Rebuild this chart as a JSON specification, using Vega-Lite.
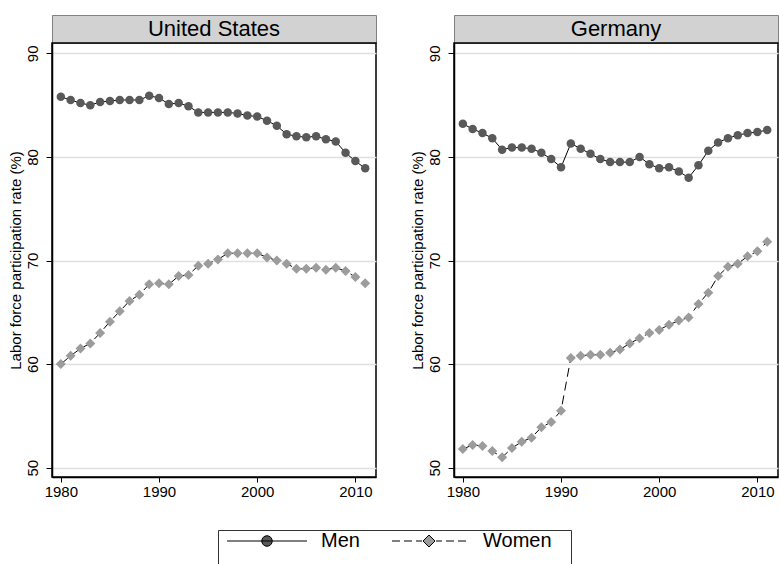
{
  "$schema": "https://vega.github.io/schema/vega-lite/v6.json",
  "padding": {"left": 7, "top": 14, "right": 0, "bottom": 0},
  "background": "white",
  "datasets": {
    "panels": [{"country": "United States"}, {"country": "Germany"}],
    "lfp": [
      {"country":"United States","sex":"Men","year":1980,"rate":85.8},
      {"country":"United States","sex":"Men","year":1981,"rate":85.5},
      {"country":"United States","sex":"Men","year":1982,"rate":85.2},
      {"country":"United States","sex":"Men","year":1983,"rate":85.0},
      {"country":"United States","sex":"Men","year":1984,"rate":85.3},
      {"country":"United States","sex":"Men","year":1985,"rate":85.4},
      {"country":"United States","sex":"Men","year":1986,"rate":85.5},
      {"country":"United States","sex":"Men","year":1987,"rate":85.5},
      {"country":"United States","sex":"Men","year":1988,"rate":85.5},
      {"country":"United States","sex":"Men","year":1989,"rate":85.9},
      {"country":"United States","sex":"Men","year":1990,"rate":85.7},
      {"country":"United States","sex":"Men","year":1991,"rate":85.1},
      {"country":"United States","sex":"Men","year":1992,"rate":85.2},
      {"country":"United States","sex":"Men","year":1993,"rate":84.9},
      {"country":"United States","sex":"Men","year":1994,"rate":84.3},
      {"country":"United States","sex":"Men","year":1995,"rate":84.3},
      {"country":"United States","sex":"Men","year":1996,"rate":84.3},
      {"country":"United States","sex":"Men","year":1997,"rate":84.3},
      {"country":"United States","sex":"Men","year":1998,"rate":84.2},
      {"country":"United States","sex":"Men","year":1999,"rate":84.0},
      {"country":"United States","sex":"Men","year":2000,"rate":83.9},
      {"country":"United States","sex":"Men","year":2001,"rate":83.5},
      {"country":"United States","sex":"Men","year":2002,"rate":83.0},
      {"country":"United States","sex":"Men","year":2003,"rate":82.2},
      {"country":"United States","sex":"Men","year":2004,"rate":82.0},
      {"country":"United States","sex":"Men","year":2005,"rate":81.9},
      {"country":"United States","sex":"Men","year":2006,"rate":82.0},
      {"country":"United States","sex":"Men","year":2007,"rate":81.7},
      {"country":"United States","sex":"Men","year":2008,"rate":81.5},
      {"country":"United States","sex":"Men","year":2009,"rate":80.4},
      {"country":"United States","sex":"Men","year":2010,"rate":79.6},
      {"country":"United States","sex":"Men","year":2011,"rate":78.9},
      {"country":"United States","sex":"Women","year":1980,"rate":60.0},
      {"country":"United States","sex":"Women","year":1981,"rate":60.8},
      {"country":"United States","sex":"Women","year":1982,"rate":61.5},
      {"country":"United States","sex":"Women","year":1983,"rate":62.0},
      {"country":"United States","sex":"Women","year":1984,"rate":63.0},
      {"country":"United States","sex":"Women","year":1985,"rate":64.1},
      {"country":"United States","sex":"Women","year":1986,"rate":65.1},
      {"country":"United States","sex":"Women","year":1987,"rate":66.1},
      {"country":"United States","sex":"Women","year":1988,"rate":66.7},
      {"country":"United States","sex":"Women","year":1989,"rate":67.7},
      {"country":"United States","sex":"Women","year":1990,"rate":67.8},
      {"country":"United States","sex":"Women","year":1991,"rate":67.7},
      {"country":"United States","sex":"Women","year":1992,"rate":68.5},
      {"country":"United States","sex":"Women","year":1993,"rate":68.6},
      {"country":"United States","sex":"Women","year":1994,"rate":69.5},
      {"country":"United States","sex":"Women","year":1995,"rate":69.7},
      {"country":"United States","sex":"Women","year":1996,"rate":70.1},
      {"country":"United States","sex":"Women","year":1997,"rate":70.7},
      {"country":"United States","sex":"Women","year":1998,"rate":70.7},
      {"country":"United States","sex":"Women","year":1999,"rate":70.7},
      {"country":"United States","sex":"Women","year":2000,"rate":70.7},
      {"country":"United States","sex":"Women","year":2001,"rate":70.3},
      {"country":"United States","sex":"Women","year":2002,"rate":70.0},
      {"country":"United States","sex":"Women","year":2003,"rate":69.7},
      {"country":"United States","sex":"Women","year":2004,"rate":69.2},
      {"country":"United States","sex":"Women","year":2005,"rate":69.2},
      {"country":"United States","sex":"Women","year":2006,"rate":69.3},
      {"country":"United States","sex":"Women","year":2007,"rate":69.1},
      {"country":"United States","sex":"Women","year":2008,"rate":69.3},
      {"country":"United States","sex":"Women","year":2009,"rate":69.0},
      {"country":"United States","sex":"Women","year":2010,"rate":68.4},
      {"country":"United States","sex":"Women","year":2011,"rate":67.8},
      {"country":"Germany","sex":"Men","year":1980,"rate":83.2},
      {"country":"Germany","sex":"Men","year":1981,"rate":82.7},
      {"country":"Germany","sex":"Men","year":1982,"rate":82.3},
      {"country":"Germany","sex":"Men","year":1983,"rate":81.8},
      {"country":"Germany","sex":"Men","year":1984,"rate":80.7},
      {"country":"Germany","sex":"Men","year":1985,"rate":80.9},
      {"country":"Germany","sex":"Men","year":1986,"rate":80.9},
      {"country":"Germany","sex":"Men","year":1987,"rate":80.8},
      {"country":"Germany","sex":"Men","year":1988,"rate":80.4},
      {"country":"Germany","sex":"Men","year":1989,"rate":79.8},
      {"country":"Germany","sex":"Men","year":1990,"rate":79.0},
      {"country":"Germany","sex":"Men","year":1991,"rate":81.3},
      {"country":"Germany","sex":"Men","year":1992,"rate":80.8},
      {"country":"Germany","sex":"Men","year":1993,"rate":80.3},
      {"country":"Germany","sex":"Men","year":1994,"rate":79.8},
      {"country":"Germany","sex":"Men","year":1995,"rate":79.5},
      {"country":"Germany","sex":"Men","year":1996,"rate":79.5},
      {"country":"Germany","sex":"Men","year":1997,"rate":79.5},
      {"country":"Germany","sex":"Men","year":1998,"rate":80.0},
      {"country":"Germany","sex":"Men","year":1999,"rate":79.3},
      {"country":"Germany","sex":"Men","year":2000,"rate":78.9},
      {"country":"Germany","sex":"Men","year":2001,"rate":79.0},
      {"country":"Germany","sex":"Men","year":2002,"rate":78.6},
      {"country":"Germany","sex":"Men","year":2003,"rate":78.0},
      {"country":"Germany","sex":"Men","year":2004,"rate":79.2},
      {"country":"Germany","sex":"Men","year":2005,"rate":80.6},
      {"country":"Germany","sex":"Men","year":2006,"rate":81.4},
      {"country":"Germany","sex":"Men","year":2007,"rate":81.8},
      {"country":"Germany","sex":"Men","year":2008,"rate":82.1},
      {"country":"Germany","sex":"Men","year":2009,"rate":82.3},
      {"country":"Germany","sex":"Men","year":2010,"rate":82.4},
      {"country":"Germany","sex":"Men","year":2011,"rate":82.6},
      {"country":"Germany","sex":"Women","year":1980,"rate":51.8},
      {"country":"Germany","sex":"Women","year":1981,"rate":52.2},
      {"country":"Germany","sex":"Women","year":1982,"rate":52.1},
      {"country":"Germany","sex":"Women","year":1983,"rate":51.6},
      {"country":"Germany","sex":"Women","year":1984,"rate":51.0},
      {"country":"Germany","sex":"Women","year":1985,"rate":51.9},
      {"country":"Germany","sex":"Women","year":1986,"rate":52.5},
      {"country":"Germany","sex":"Women","year":1987,"rate":52.9},
      {"country":"Germany","sex":"Women","year":1988,"rate":53.9},
      {"country":"Germany","sex":"Women","year":1989,"rate":54.4},
      {"country":"Germany","sex":"Women","year":1990,"rate":55.5},
      {"country":"Germany","sex":"Women","year":1991,"rate":60.6},
      {"country":"Germany","sex":"Women","year":1992,"rate":60.8},
      {"country":"Germany","sex":"Women","year":1993,"rate":60.9},
      {"country":"Germany","sex":"Women","year":1994,"rate":60.9},
      {"country":"Germany","sex":"Women","year":1995,"rate":61.1},
      {"country":"Germany","sex":"Women","year":1996,"rate":61.4},
      {"country":"Germany","sex":"Women","year":1997,"rate":62.0},
      {"country":"Germany","sex":"Women","year":1998,"rate":62.5},
      {"country":"Germany","sex":"Women","year":1999,"rate":63.0},
      {"country":"Germany","sex":"Women","year":2000,"rate":63.3},
      {"country":"Germany","sex":"Women","year":2001,"rate":63.8},
      {"country":"Germany","sex":"Women","year":2002,"rate":64.2},
      {"country":"Germany","sex":"Women","year":2003,"rate":64.5},
      {"country":"Germany","sex":"Women","year":2004,"rate":65.8},
      {"country":"Germany","sex":"Women","year":2005,"rate":66.9},
      {"country":"Germany","sex":"Women","year":2006,"rate":68.5},
      {"country":"Germany","sex":"Women","year":2007,"rate":69.4},
      {"country":"Germany","sex":"Women","year":2008,"rate":69.7},
      {"country":"Germany","sex":"Women","year":2009,"rate":70.4},
      {"country":"Germany","sex":"Women","year":2010,"rate":70.9},
      {"country":"Germany","sex":"Women","year":2011,"rate":71.8}
    ]
  },
  "spacing": 32,
  "hconcat": [
    {
      "bounds": "flush",
      "spacing": 0,
      "vconcat": [
        {
          "data": {"name": "panels"},
          "transform": [{"filter": "datum.country === 'United States'"}],
          "width": 324, "height": 28,
          "view": {"fill": "#d2d2d2", "stroke": "#808080", "strokeWidth": 1},
          "mark": {"type": "text", "font": "Liberation Sans", "fontSize": 22, "color": "black", "align": "center", "baseline": "middle"},
          "encoding": {"text": {"field": "country", "type": "nominal"}}
        },
        {
          "data": {"name": "lfp"},
          "transform": [{"filter": "datum.country === 'United States'"}],
          "width": 324, "height": 434,
          "view": {"stroke": "black", "strokeWidth": 1.5},
          "encoding": {
            "x": {"field": "year", "type": "quantitative", "scale": {"domain": [1979.1, 2012.1], "nice": false, "zero": false}, "axis": {"values": [1980, 1990, 2000, 2010], "format": "d", "title": null}},
            "y": {"field": "rate", "type": "quantitative", "scale": {"domain": [49.1, 91.0], "nice": false, "zero": false}, "axis": {"values": [50, 60, 70, 80, 90], "title": "Labor force participation rate (%)"}}
          },
          "layer": [
            {"transform": [{"filter": "datum.sex === 'Men'"}],
             "mark": {"type": "line", "color": "black", "strokeWidth": 1}},
            {"transform": [{"filter": "datum.sex === 'Women'"}],
             "mark": {"type": "line", "color": "black", "strokeWidth": 1, "strokeDash": [9, 5]}},
            {"transform": [{"filter": "datum.sex === 'Men'"}],
             "mark": {"type": "point", "filled": true, "opacity": 1, "shape": "circle", "size": 72},
             "encoding": {
               "color": {"field": "sex", "type": "nominal", "scale": {"domain": ["Men", "Women"], "range": ["#595959", "#9c9c9c"]},
                 "legend": {"title": null, "orient": "none", "legendX": 166, "legendY": 515, "direction": "horizontal",
                   "encode": {"symbols": {"update": {"shape": {"signal": "datum.value === 'Men' ? 'M-8,0L8,0M1.05,0A1.05,1.05,0,1,1,-1.05,0A1.05,1.05,0,1,1,1.05,0ZM0,6' : 'M-7.4,0L-5.8,0M-5,0L-3.4,0M-2.6,0L-1.4,0M1.4,0L2.6,0M3.4,0L5,0M5.8,0L7.4,0M0,-1.2L1.2,0L0,1.2L-1.2,0ZM27.8,0M0,6'"}, "stroke": {"value": "black"}, "strokeWidth": {"value": 1}}}}}}
             }},
            {"transform": [{"filter": "datum.sex === 'Women'"}],
             "mark": {"type": "point", "filled": true, "opacity": 1, "shape": "diamond", "size": 100},
             "encoding": {
               "color": {"field": "sex", "type": "nominal", "scale": {"domain": ["Men", "Women"], "range": ["#595959", "#9c9c9c"]},
                 "legend": {"title": null, "orient": "none", "legendX": 166, "legendY": 515, "direction": "horizontal",
                   "encode": {"symbols": {"update": {"shape": {"signal": "datum.value === 'Men' ? 'M-8,0L8,0M1.05,0A1.05,1.05,0,1,1,-1.05,0A1.05,1.05,0,1,1,1.05,0ZM0,6' : 'M-7.4,0L-5.8,0M-5,0L-3.4,0M-2.6,0L-1.4,0M1.4,0L2.6,0M3.4,0L5,0M5.8,0L7.4,0M0,-1.2L1.2,0L0,1.2L-1.2,0ZM27.8,0M0,6'"}, "stroke": {"value": "black"}, "strokeWidth": {"value": 1}}}}}}
             }}
          ]
        }
      ]
    },
    {
      "bounds": "flush",
      "spacing": 0,
      "vconcat": [
        {
          "data": {"name": "panels"},
          "transform": [{"filter": "datum.country === 'Germany'"}],
          "width": 324, "height": 28,
          "view": {"fill": "#d2d2d2", "stroke": "#808080", "strokeWidth": 1},
          "mark": {"type": "text", "font": "Liberation Sans", "fontSize": 22, "color": "black", "align": "center", "baseline": "middle"},
          "encoding": {"text": {"field": "country", "type": "nominal"}}
        },
        {
          "data": {"name": "lfp"},
          "transform": [{"filter": "datum.country === 'Germany'"}],
          "width": 324, "height": 434,
          "view": {"stroke": "black", "strokeWidth": 1.5},
          "encoding": {
            "x": {"field": "year", "type": "quantitative", "scale": {"domain": [1979.1, 2012.1], "nice": false, "zero": false}, "axis": {"values": [1980, 1990, 2000, 2010], "format": "d", "title": null}},
            "y": {"field": "rate", "type": "quantitative", "scale": {"domain": [49.1, 91.0], "nice": false, "zero": false}, "axis": {"values": [50, 60, 70, 80, 90], "title": "Labor force participation rate (%)"}}
          },
          "layer": [
            {"transform": [{"filter": "datum.sex === 'Men'"}],
             "mark": {"type": "line", "color": "black", "strokeWidth": 1}},
            {"transform": [{"filter": "datum.sex === 'Women'"}],
             "mark": {"type": "line", "color": "black", "strokeWidth": 1, "strokeDash": [9, 5]}},
            {"transform": [{"filter": "datum.sex === 'Men'"}],
             "mark": {"type": "point", "filled": true, "opacity": 1, "shape": "circle", "size": 72},
             "encoding": {
               "color": {"field": "sex", "type": "nominal", "scale": {"domain": ["Men", "Women"], "range": ["#595959", "#9c9c9c"]},
                 "legend": {"title": null, "orient": "none", "legendX": 166, "legendY": 515, "direction": "horizontal",
                   "encode": {"symbols": {"update": {"shape": {"signal": "datum.value === 'Men' ? 'M-8,0L8,0M1.05,0A1.05,1.05,0,1,1,-1.05,0A1.05,1.05,0,1,1,1.05,0ZM0,6' : 'M-7.4,0L-5.8,0M-5,0L-3.4,0M-2.6,0L-1.4,0M1.4,0L2.6,0M3.4,0L5,0M5.8,0L7.4,0M0,-1.2L1.2,0L0,1.2L-1.2,0ZM27.8,0M0,6'"}, "stroke": {"value": "black"}, "strokeWidth": {"value": 1}}}}}}
             }},
            {"transform": [{"filter": "datum.sex === 'Women'"}],
             "mark": {"type": "point", "filled": true, "opacity": 1, "shape": "diamond", "size": 100},
             "encoding": {
               "color": {"field": "sex", "type": "nominal", "scale": {"domain": ["Men", "Women"], "range": ["#595959", "#9c9c9c"]},
                 "legend": {"title": null, "orient": "none", "legendX": 166, "legendY": 515, "direction": "horizontal",
                   "encode": {"symbols": {"update": {"shape": {"signal": "datum.value === 'Men' ? 'M-8,0L8,0M1.05,0A1.05,1.05,0,1,1,-1.05,0A1.05,1.05,0,1,1,1.05,0ZM0,6' : 'M-7.4,0L-5.8,0M-5,0L-3.4,0M-2.6,0L-1.4,0M1.4,0L2.6,0M3.4,0L5,0M5.8,0L7.4,0M0,-1.2L1.2,0L0,1.2L-1.2,0ZM27.8,0M0,6'"}, "stroke": {"value": "black"}, "strokeWidth": {"value": 1}}}}}}
             }}
          ]
        }
      ]
    }
  ],
  "config": {
    "font": "Liberation Sans",
    "axis": {
      "domainColor": "black", "domainWidth": 1.5,
      "tickColor": "black", "tickWidth": 1,
      "labelFont": "Liberation Sans", "labelFontSize": 15, "labelColor": "black",
      "titleFont": "Liberation Sans", "titleFontSize": 15, "titleFontWeight": "normal", "titleColor": "black"
    },
    "axisX": {"grid": false, "tickSize": 5, "labelPadding": 2, "labelFlush": false, "labelOverlap": false},
    "axisY": {"grid": true, "gridColor": "#e0e0e0", "gridWidth": 1.5, "tickSize": 6, "labelAngle": -90, "labelAlign": "center", "labelBaseline": "alphabetic", "labelPadding": 9, "titlePadding": 2, "labelOverlap": false},
    "legend": {
      "symbolSize": 100,
      "symbolOffset": 38,
      "labelFont": "Liberation Sans", "labelFontSize": 20, "labelColor": "black",
      "labelOffset": 44,
      "columnPadding": 21,
      "padding": 1,
      "strokeColor": "#333333",
      "symbolOpacity": 1,
      "symbolStrokeColor": "black",
      "symbolStrokeWidth": 1
    }
  },
  "resolve": {"legend": {"color": "shared"}, "scale": {"color": "shared"}}
}
